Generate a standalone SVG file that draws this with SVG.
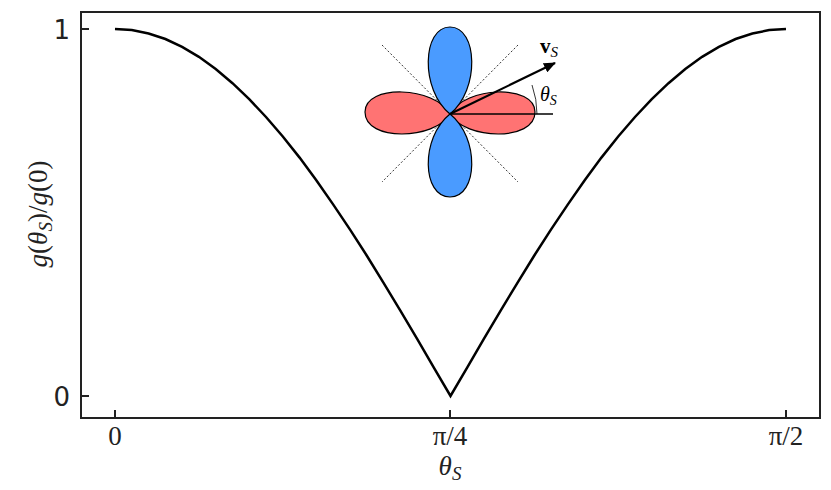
<svg xmlns="http://www.w3.org/2000/svg" width="831" height="490" viewBox="0 0 831 490">
<style>
.ax{fill:none;stroke:#222;stroke-width:2}
.lbl{font-family:"Liberation Serif",serif;font-size:27px;fill:#222}
.num{font-family:"DejaVu Sans",sans-serif;font-size:26px;fill:#222}
.lobe{stroke:#000;stroke-width:1.2}
</style>
<defs><marker id="ah" markerWidth="12" markerHeight="10" refX="11" refY="5" orient="auto" markerUnits="userSpaceOnUse"><path d="M0,0 L12,5 L0,10 Z" fill="#000"/></marker></defs>
<rect width="831" height="490" fill="#fff"/>
<g id="axes">
<rect class="ax" x="81" y="12" width="739" height="406"/>
<path class="ax" d="M115,418v-8M450,418v-8M786,418v-8M81,29h8M81,396h8"/>
<text class="lbl" x="115" y="445" text-anchor="middle">0</text>
<text class="lbl" x="450" y="445" text-anchor="middle">π/4</text>
<text class="lbl" x="786" y="445" text-anchor="middle">π/2</text>
<text class="num" x="70" y="39" text-anchor="end">1</text>
<text class="num" x="70" y="406" text-anchor="end">0</text>
<text class="lbl" x="450" y="475" text-anchor="middle" font-style="italic">θ<tspan font-size="19" dy="5">S</tspan></text>
<text class="lbl" transform="translate(47,214) rotate(-90)" text-anchor="middle"><tspan font-style="italic">g</tspan>(<tspan font-style="italic">θ<tspan font-size="19" dy="5">S</tspan></tspan><tspan dy="-5">)/</tspan><tspan font-style="italic">g</tspan>(0)</text>
</g>
<g id="curve">
<path fill="none" stroke="#000" stroke-width="2.5" d="M115,29 L131.8,30.1 L148.6,33.5 L165.4,39 L182.1,46.9 L198.9,56.8 L215.7,69 L232.5,83.2 L249.2,99.1 L266,117 L282.8,136.5 L299.6,157.6 L316.3,180.3 L333.1,204.4 L349.9,229.4 L366.7,255.5 L383.4,282.6 L400.2,310.3 L417,338.6 L433.7,367.3 L450.5,396 L467.3,367.3 L484,338.6 L500.8,310.3 L517.6,282.6 L534.3,255.5 L551.1,229.4 L567.9,204.4 L584.7,180.3 L601.4,157.6 L618.2,136.5 L635,117 L651.8,99.1 L668.5,83.2 L685.3,69 L702.1,56.8 L718.9,46.9 L735.6,39 L752.4,33.5 L769.2,30.1 L786,29"/>
</g>
<g id="inset">
<path d="M382,45 L518,182 M518,45 L382,182" stroke="#000" stroke-width="0.8" stroke-dasharray="2,2"/>
<path class="lobe" fill="#ff7373" d="M450,114 C435,86 365,84 365,112 C365,142 435,140 450,114 Z"/>
<path class="lobe" fill="#ff7373" d="M450,114 C465,86 535,84 535,112 C535,142 465,140 450,114 Z"/>
<path class="lobe" fill="#4a9bff" d="M450,114 C420,90 422,27 450,27 C478,27 480,90 450,114 Z"/>
<path class="lobe" fill="#4a9bff" d="M450,114 C420,138 422,197 450,197 C478,197 480,138 450,114 Z"/>
<path d="M450,114 H553" stroke="#000" stroke-width="1.5"/>
<path d="M450,114 L555,63" stroke="#000" stroke-width="2.2" marker-end="url(#ah)"/>
<path d="M537,114 A87,87 0 0 0 532,85" fill="none" stroke="#000" stroke-width="0.8"/>
<text x="540" y="53" font-family="Liberation Serif,serif" font-size="21" font-weight="bold">v<tspan font-size="15" font-weight="normal" font-style="italic" dy="4">S</tspan></text>
<text x="540" y="101" font-family="Liberation Serif,serif" font-size="20" font-style="italic">θ<tspan font-size="14" dy="4">S</tspan></text>
</g>
</svg>
